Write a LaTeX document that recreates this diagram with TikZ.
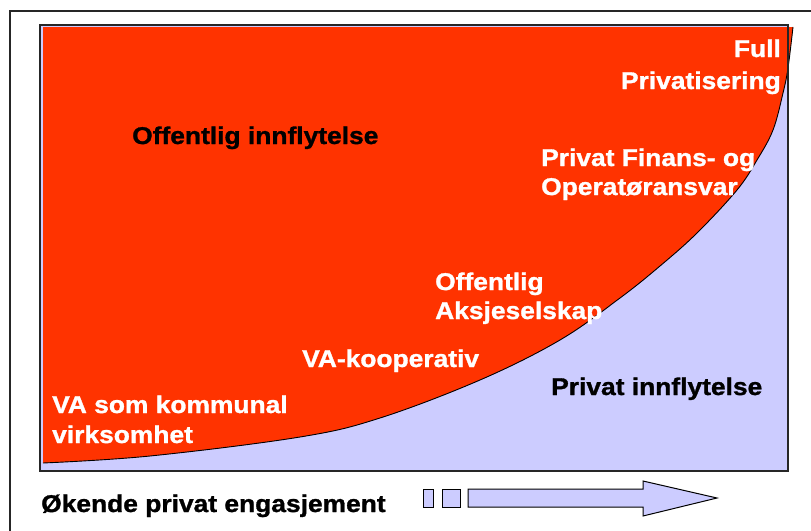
\documentclass[tikz,border=0pt]{standalone}
\usepackage{fontspec}
\setmainfont{Liberation Sans}[FakeStretch=1.09, FakeBold=1.2]
\definecolor{offred}{HTML}{FF3300}
\definecolor{lav}{HTML}{CCCCFF}
\begin{document}
\begin{tikzpicture}[x=1pt,y=-1pt,
  lbl/.style={font=\bfseries\fontsize{24.2}{28}\selectfont, inner sep=0pt, text=white},
  blk/.style={font=\bfseries\fontsize{24.2}{28}\selectfont, inner sep=0pt, text=black},
  arrowpart/.style={draw=black, line width=1pt, fill=lav}]
\useasboundingbox (0,0) rectangle (811,530);
% outer frame
\draw[line width=1.6pt, draw=black!85] (10,540) -- (10,11) -- (820,11);
% inner box
\path[fill=lav] (40,25) rectangle (788,471);
% red region
\fill[offred] (43,27) --
  plot[smooth, tension=0.6] coordinates {(43,463) (150,456) (300,437) (380,418) (480,380) (560,340) (620,298) (660,266) (697,233) (737,190) (757,160) (773,130) (783,93) (788,68) (793,27)}
  -- cycle;
\draw[line width=0.9pt]
  plot[smooth, tension=0.6] coordinates {(43,463) (150,456) (300,437) (380,418) (480,380) (560,340) (620,298) (660,266) (697,233) (737,190) (757,160) (773,130) (783,93) (788,68) (793,27)};
\draw[line width=1.4pt, draw=black!85] (40,25) rectangle (788,471);
% labels
\node[blk, anchor=base west] (off) at (132,144) {Offentlig innflytelse};
\node[blk, anchor=base west] (priv) at (551,395) {Privat innflytelse};
\node[lbl, anchor=base east] (full1) at (781,57) {Full};
\node[lbl, anchor=base east] (full2) at (781,89) {Privatisering};
\node[lbl, anchor=base west] (pf1) at (541,166) {Privat Finans- og};
\node[lbl, anchor=base west] (pf2) at (541,195) {Operatøransvar};
\node[lbl, anchor=base west] (oa1) at (435,290) {Offentlig};
\node[lbl, anchor=base west] (oa2) at (435,319) {Aksjeselskap};
\node[lbl, anchor=base west] (vak) at (302,367) {VA-kooperativ};
\node[lbl, anchor=base west] (vs1) at (52,413) {VA som kommunal};
\node[lbl, anchor=base west] (vs2) at (52,443) {virksomhet};
\node[blk, anchor=base west] (oek) at (41,512) {Økende privat engasjement};
% arrow
\path[arrowpart] (423,489) rectangle (433,507);
\path[arrowpart] (442,489) rectangle (460,507);
\path[arrowpart] (468,489) -- (643,489) -- (643,481) -- (717,498) -- (643,516) -- (643,507) -- (468,507) -- cycle;
\end{tikzpicture}
\end{document}
